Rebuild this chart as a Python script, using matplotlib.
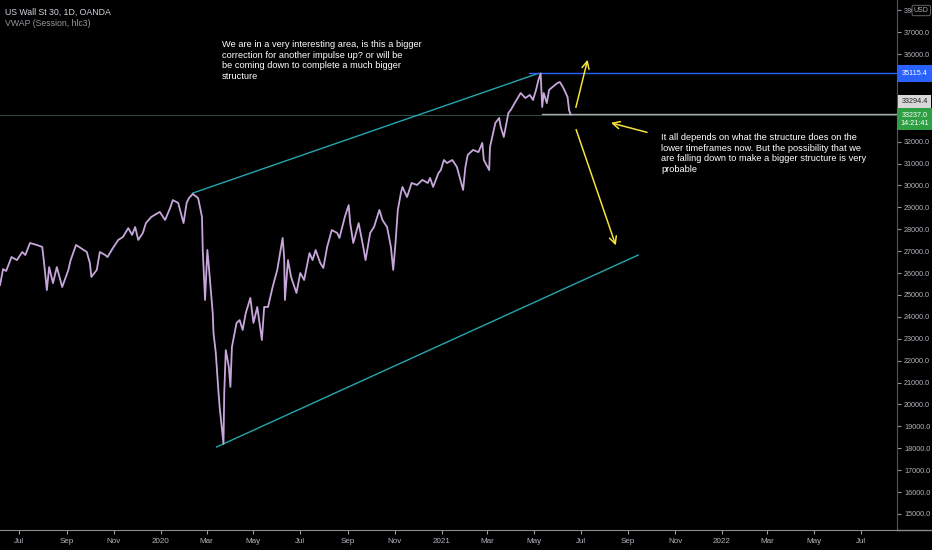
import matplotlib
matplotlib.use("Agg")
import matplotlib.pyplot as plt
import pandas as pd
from matplotlib.lines import Line2D

# daily close (approx)
dates = ["2019-06-06", "2019-06-10", "2019-06-14", "2019-06-21", "2019-06-28", "2019-07-05",
         "2019-07-09", "2019-07-15", "2019-07-24", "2019-07-31", "2019-08-02", "2019-08-06",
         "2019-08-09", "2019-08-14", "2019-08-19", "2019-08-26", "2019-09-03", "2019-09-06",
         "2019-09-13", "2019-09-23", "2019-09-27", "2019-10-01", "2019-10-03", "2019-10-10",
         "2019-10-14", "2019-10-21", "2019-10-24", "2019-10-31", "2019-11-07", "2019-11-13",
         "2019-11-20", "2019-11-25", "2019-11-29", "2019-12-03", "2019-12-09", "2019-12-13",
         "2019-12-20", "2019-12-31", "2020-01-07", "2020-01-14", "2020-01-17", "2020-01-24",
         "2020-01-31", "2020-02-04", "2020-02-07", "2020-02-12", "2020-02-19", "2020-02-24",
         "2020-02-25", "2020-02-28", "2020-03-02", "2020-03-04", "2020-03-09", "2020-03-10",
         "2020-03-13", "2020-03-16", "2020-03-18", "2020-03-23", "2020-03-24", "2020-03-26",
         "2020-03-30", "2020-04-01", "2020-04-03", "2020-04-09", "2020-04-13", "2020-04-17",
         "2020-04-21", "2020-04-27", "2020-05-01", "2020-05-06", "2020-05-12", "2020-05-15",
         "2020-05-20", "2020-05-26", "2020-06-01", "2020-06-08", "2020-06-10", "2020-06-11",
         "2020-06-15", "2020-06-19", "2020-06-26", "2020-07-01", "2020-07-06", "2020-07-13",
         "2020-07-17", "2020-07-21", "2020-07-27", "2020-07-31", "2020-08-05", "2020-08-11",
         "2020-08-18", "2020-08-21", "2020-08-28", "2020-09-02", "2020-09-04", "2020-09-08",
         "2020-09-15", "2020-09-21", "2020-09-24", "2020-09-30", "2020-10-05", "2020-10-12",
         "2020-10-16", "2020-10-22", "2020-10-27", "2020-10-30", "2020-11-02", "2020-11-05",
         "2020-11-09", "2020-11-11", "2020-11-17", "2020-11-23", "2020-11-30", "2020-12-07",
         "2020-12-14", "2020-12-17", "2020-12-21", "2020-12-28", "2020-12-31", "2021-01-04",
         "2021-01-08", "2021-01-15", "2021-01-21", "2021-01-29", "2021-02-01", "2021-02-04",
         "2021-02-11", "2021-02-18", "2021-02-23", "2021-02-25", "2021-03-04", "2021-03-05",
         "2021-03-09", "2021-03-12", "2021-03-17", "2021-03-19", "2021-03-23", "2021-03-29",
         "2021-04-01", "2021-04-07", "2021-04-14", "2021-04-20", "2021-04-26", "2021-04-30",
         "2021-05-04", "2021-05-07", "2021-05-10", "2021-05-12", "2021-05-14", "2021-05-18",
         "2021-05-21", "2021-05-24", "2021-06-01", "2021-06-04", "2021-06-08", "2021-06-14",
         "2021-06-16", "2021-06-18"]
closes = [25450, 26180, 26090, 26730, 26590, 26960,
          26820, 27370, 27280, 27190, 26590, 25220,
          26270, 25540, 26270, 25360, 26140, 26590,
          27280, 27050, 26960, 26460, 25820, 26140,
          26960, 26820, 26730, 27140, 27510, 27640,
          28050, 27740, 28100, 27510, 27830, 28280,
          28560, 28790, 28420, 29010, 29330, 29200,
          28280, 29200, 29420, 29610, 29420, 28560,
          27050, 24770, 27050, 26270, 24170, 23260,
          22350, 20800, 19880, 18200, 20520, 22480,
          21710, 20800, 22620, 23720, 23850, 23400,
          24170, 24860, 23720, 24450, 22940, 24450,
          24450, 25360, 26140, 27600, 26730, 24770,
          26590, 25820, 25090, 26000, 25680, 26910,
          26590, 27050, 26460, 26230, 27190, 27960,
          27830, 27600, 28560, 29100, 28280, 27370,
          28280, 27190, 26590, 27830, 28100, 28880,
          28420, 28100, 27190, 26140, 27370, 28880,
          29650, 29930, 29470, 30110, 30020, 30250,
          30110, 30340, 29930, 30570, 30700, 31160,
          31020, 31160, 30840, 29790, 30840, 31390,
          31620, 31520, 31940, 31160, 30700, 31750,
          32390, 32850, 33080, 32670, 32210, 33310,
          33440, 33810, 34220, 33990, 34130, 33900,
          34360, 34800, 35115, 33580, 34220, 33760,
          34360, 34450, 34680, 34720, 34490, 34040,
          33440, 33237]

# drawings
upper_line_dates = ["2020-02-12", "2021-05-07"]
upper_line_vals = [29650, 35115]
lower_line_dates = ["2020-03-14", "2021-09-14"]
lower_line_vals = [18055, 26820]
high_level = 35115.4
last_price = 33237.0
vwap_value = 33294.4

# arrows: (tail date, tail value, head date, head value)
arrows = [("2021-06-24", 33440, "2021-07-11", 35860),
          ("2021-06-24", 32670, "2021-08-17", 27140),
          ("2021-09-29", 32390, "2021-08-06", 32890)]

month_ticks = ["2019-07-01", "2019-09-01", "2019-11-01", "2020-01-01", "2020-03-01", "2020-05-01",
               "2020-07-01", "2020-09-01", "2020-11-01", "2021-01-01", "2021-03-01", "2021-05-01",
               "2021-07-01", "2021-09-01", "2021-11-01", "2022-01-01", "2022-03-01", "2022-05-01",
               "2022-07-01"]
month_labels = ["Jul", "Sep", "Nov", "2020", "Mar", "May", "Jul", "Sep", "Nov", "2021",
                "Mar", "May", "Jul", "Sep", "Nov", "2022", "Mar", "May", "Jul"]
price_ticks = list(range(15000, 38001, 1000))

note_1 = ("We are in a very interesting area, is this a bigger\n"
          "correction for another impulse up? or will be\n"
          "be coming down to complete a much bigger\n"
          "structure")
note_2 = ("It all depends on what the structure does on the\n"
          "lower timeframes now. But the possibility that we\n"
          "are falling down to make a bigger structure is very\n"
          "probable")

font = ["Liberation Sans", "DejaVu Sans"]
bg = "#000000"
axis_col = "#9598a1"

fig = plt.figure(figsize=(9.32, 5.5), dpi=100, facecolor=bg)
ax = fig.add_axes([0, 20 / 550, 897 / 932, 530 / 550], facecolor=bg)

d = pd.to_datetime(dates)
ax.plot(d, closes, color="#c7a6dc", lw=1.3, zorder=3)

# channel
ax.plot(pd.to_datetime(upper_line_dates), upper_line_vals, color="#26a6b0", lw=1, zorder=2)
ax.plot(pd.to_datetime(lower_line_dates), lower_line_vals, color="#26a6b0", lw=1, zorder=2)

# horizontal levels
ax.axhline(last_price, color="#2f4d47", lw=0.7, zorder=1)
ax.plot([pd.Timestamp("2021-04-25"), pd.Timestamp("2022-09-01")], [high_level, high_level],
        color="#2962ff", lw=1, zorder=2)
ax.plot([pd.Timestamp("2021-05-12"), pd.Timestamp("2022-09-01")], [last_price + 20, last_price + 20],
        color="#a9a9a9", lw=1, zorder=2)

for t0, v0, t1, v1 in arrows:
    ax.annotate("", xy=(pd.Timestamp(t1), v1), xytext=(pd.Timestamp(t0), v0),
                arrowprops=dict(arrowstyle="->", color="#f5e33b", lw=1.1, mutation_scale=13),
                zorder=4)

ax.text(pd.Timestamp("2020-03-21"), 36650, note_1, color="white", fontsize=6.7,
        family=font, va="top", ha="left", linespacing=1.25)
ax.text(pd.Timestamp("2021-10-14"), 32400, note_2, color="white", fontsize=6.7,
        family=font, va="top", ha="left", linespacing=1.25)

ax.set_xlim(pd.Timestamp("2019-06-06"), pd.Timestamp("2022-08-17"))
ax.set_ylim(14265, 38466)

ax.set_xticks(pd.to_datetime(month_ticks))
ax.set_xticklabels(month_labels)
ax.yaxis.tick_right()
ax.set_yticks(price_ticks)
ax.set_yticklabels([f"{p}.0" for p in price_ticks])
ax.tick_params(axis="x", colors=axis_col, labelsize=5.8, length=3, pad=3)
ax.tick_params(axis="y", colors=axis_col, labelsize=5.2, length=3, pad=2)
for lab in ax.get_xticklabels() + ax.get_yticklabels():
    lab.set_family(font)
    lab.set_color("#b2b5be")

for s in ["top", "left"]:
    ax.spines[s].set_visible(False)
ax.spines["right"].set_color("#555555")
ax.spines["bottom"].set_color("#8a8a8a")
fig.add_artist(Line2D([897 / 932, 1], [20 / 550, 20 / 550], color="#8a8a8a", lw=1))

# price labels on the axis
yx = ax.get_yaxis_transform()
ax.text(1.0195, high_level, "35115.4", transform=yx, ha="center", va="center", fontsize=5.2,
        family=font, color="white", clip_on=False, zorder=6,
        bbox=dict(boxstyle="square,pad=0.65", fc="#2962ff", ec="none"))
ax.text(1.0195, 33830, f"{vwap_value:.1f}", transform=yx, ha="center", va="center", fontsize=5.2,
        family=font, color="#222222", clip_on=False, zorder=6,
        bbox=dict(boxstyle="square,pad=0.4", fc="#d8d8d8", ec="none"))
ax.text(1.0195, 33030, f"{last_price:.1f}\n14:21:41", transform=yx, ha="center", va="center",
        fontsize=5.2, family=font, color="white", clip_on=False, zorder=6, linespacing=1.2,
        bbox=dict(boxstyle="square,pad=0.45", fc="#2ea043", ec="none"))
ax.text(1.027, 38466 - 480, "USD", transform=yx, ha="center", va="center", fontsize=5,
        family=font, color="#b2b5be", clip_on=False, zorder=6,
        bbox=dict(boxstyle="round,pad=0.25", fc=bg, ec="#777777", lw=0.6))

fig.text(5 / 932, 1 - 12 / 550, "US Wall St 30, 1D, OANDA", color="#d1d4dc", fontsize=6.3,
         family=font, va="center")
fig.text(5 / 932, 1 - 24 / 550, "VWAP (Session, hlc3)", color="#9598a1", fontsize=6.3,
         family=font, va="center")

fig.savefig("out.png", dpi=100, facecolor=bg)
